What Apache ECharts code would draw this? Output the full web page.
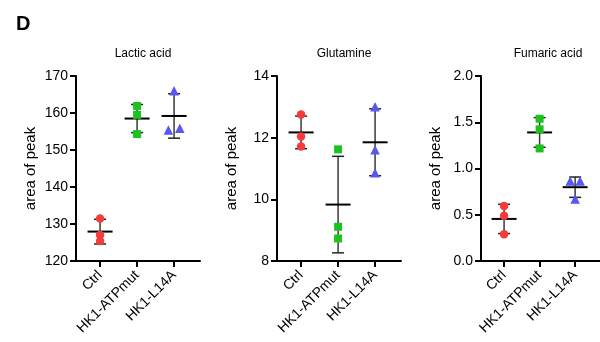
<!DOCTYPE html>
<html>
<head>
<meta charset="utf-8">
<script src="https://cdn.jsdelivr.net/npm/echarts@6/dist/echarts.min.js"></script>
<style>html,body{margin:0;padding:0;background:#fff}#c{width:600px;height:342px}</style>
</head>
<body>
<div id="c"></div>
<script>
// ---- data ----
const categories = ['Ctrl', 'HK1-ATPmut', 'HK1-L14A'];
const panelTitles = ['Lactic acid', 'Glutamine', 'Fumaric acid'];

const lacticValues = [[131.5, 127.0, 125.4], [161.9, 159.5, 154.3], [166.0, 155.4, 155.9]];
const lacticJitter = [[0, 0, 0], [0, 0, 0], [0, -0.155, 0.155]];
const lacticMean = [127.95, 158.5, 159.2];
const lacticSD = [3.35, 3.8, 6.0];

const glutamineValues = [[12.75, 12.04, 11.71], [11.62, 9.11, 8.73], [13.0, 11.61, 10.86]];
const glutamineJitter = [[0, 0, 0], [0, 0, 0], [0, 0, 0]];
const glutamineMean = [12.17, 9.83, 11.85];
const glutamineSD = [0.53, 1.565, 1.085];

const fumaricValues = [[0.595, 0.49, 0.288], [1.538, 1.423, 1.217], [0.865, 0.865, 0.67]];
const fumaricJitter = [[0, 0, 0], [0, 0, 0], [-0.14, 0.14, 0]];
const fumaricMean = [0.455, 1.39, 0.798];
const fumaricSD = [0.158, 0.16, 0.11];

const yMin = [120, 8, 0];
const yMax = [170, 14, 2];
const yInterval = [10, 2, 0.5];
const yDecimals = [0, 0, 1];

// ---- styles ----
const FONT = 'Liberation Sans, Arial, Helvetica, sans-serif';
const groupColors = ['#F53C3C', '#1EC21E', '#5757F2'];
const groupSymbols = ['circle', 'rect', 'triangle'];
const groupSizes = [8.5, 8, 9.5];
const gridLefts = [76, 277, 481];

const panels = [
  {values: lacticValues, jitter: lacticJitter, mean: lacticMean, sd: lacticSD},
  {values: glutamineValues, jitter: glutamineJitter, mean: glutamineMean, sd: glutamineSD},
  {values: fumaricValues, jitter: fumaricJitter, mean: fumaricMean, sd: fumaricSD}
];

const grids = [], xAxes = [], yAxes = [], series = [];
const titles = [{text: 'D', left: 11, top: 9, textStyle: {fontFamily: FONT, fontSize: 20, fontWeight: 'bold', color: '#000'}}];

panels.forEach((p, k) => {
  grids.push({left: gridLefts[k], top: 76, width: 124, height: 185, containLabel: false});
  titles.push({
    text: panelTitles[k], left: gridLefts[k] + 62, top: 43, textAlign: 'center',
    textStyle: {fontFamily: FONT, fontSize: 12, fontWeight: 'normal', color: '#000'}
  });
  xAxes.push({
    type: 'value', gridIndex: k, min: -0.65, max: 2.7,
    splitLine: {show: false},
    axisLine: {show: true, onZero: false, lineStyle: {color: '#000', width: 2}},
    axisTick: {show: true, customValues: [0, 1, 2], length: 6, lineStyle: {color: '#000', width: 2}},
    axisLabel: {
      show: true, customValues: [0, 1, 2], rotate: 45, margin: 12,
      fontFamily: FONT, fontSize: 14, color: '#000',
      formatter: v => categories[Math.round(v)] || ''
    }
  });
  yAxes.push({
    type: 'value', gridIndex: k, min: yMin[k], max: yMax[k], interval: yInterval[k],
    name: 'area of peak', nameLocation: 'middle', nameGap: 38,
    nameTextStyle: {fontFamily: FONT, fontSize: 15, color: '#000'},
    splitLine: {show: false},
    axisLine: {show: true, onZero: false, lineStyle: {color: '#000', width: 2}},
    axisTick: {show: true, length: 6, lineStyle: {color: '#000', width: 2}},
    axisLabel: {
      margin: 8, fontFamily: FONT, fontSize: 14, color: '#000',
      formatter: v => v.toFixed(yDecimals[k])
    }
  });

  // error bars + mean line
  const statData = categories.map((c, i) => [i, p.mean[i], p.sd[i]]);
  series.push({
    type: 'custom', xAxisIndex: k, yAxisIndex: k, z: 1, clip: false,
    data: statData,
    renderItem: function (params, api) {
      const x = api.value(0), m = api.value(1), s = api.value(2);
      const c = api.coord([x, m]);
      const t = api.coord([x, m + s]);
      const b = api.coord([x, m - s]);
      const capW = 6, meanW = 12.5;
      return {
        type: 'group',
        children: [
          {type: 'line', shape: {x1: c[0], y1: t[1], x2: c[0], y2: b[1]}, style: {stroke: '#3a3a3a', lineWidth: 1.5}},
          {type: 'line', shape: {x1: c[0] - capW, y1: t[1], x2: c[0] + capW, y2: t[1]}, style: {stroke: '#222', lineWidth: 1.5}},
          {type: 'line', shape: {x1: c[0] - capW, y1: b[1], x2: c[0] + capW, y2: b[1]}, style: {stroke: '#222', lineWidth: 1.5}},
          {type: 'line', shape: {x1: c[0] - meanW, y1: c[1], x2: c[0] + meanW, y2: c[1]}, style: {stroke: '#000', lineWidth: 2}}
        ]
      };
    }
  });

  // individual points
  categories.forEach((c, i) => {
    series.push({
      type: 'scatter', xAxisIndex: k, yAxisIndex: k, z: 3,
      symbol: groupSymbols[i], symbolSize: groupSizes[i],
      itemStyle: {color: groupColors[i], opacity: 1},
      data: p.values[i].map((v, j) => [i + p.jitter[i][j], v])
    });
  });
});

const chart = echarts.init(document.getElementById('c'), null, {renderer: 'canvas'});
chart.setOption({
  animation: false,
  backgroundColor: '#fff',
  title: titles,
  grid: grids,
  xAxis: xAxes,
  yAxis: yAxes,
  series: series
});
</script>
</body>
</html>
